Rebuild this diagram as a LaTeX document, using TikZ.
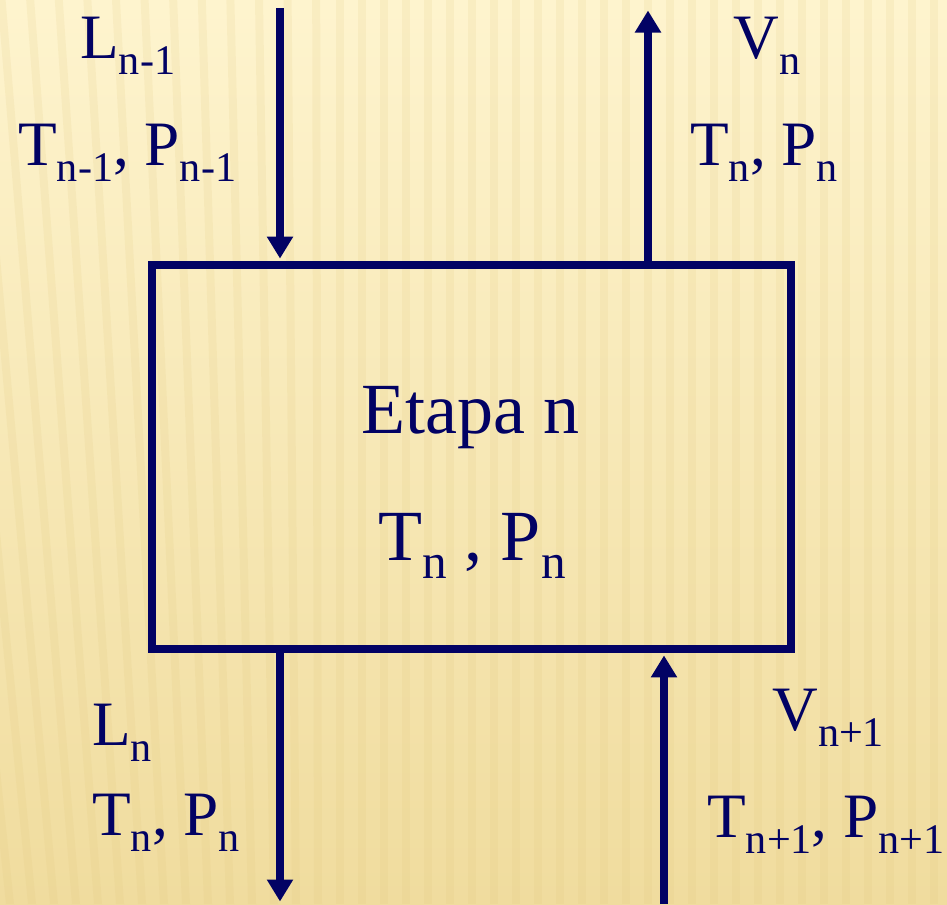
\documentclass[tikz,border=0pt]{standalone}
\usepackage{fontspec}
\setmainfont{Liberation Serif}
\usetikzlibrary{arrows.meta}

\definecolor{navy}{RGB}{2,2,100}
\definecolor{paperTop}{RGB}{254,244,206}
\definecolor{paperBot}{RGB}{240,220,158}
\definecolor{paperStripe}{RGB}{222,196,120}

% lowered index, as on the slide
\newcommand{\lo}[1]{\raisebox{-0.32cm}{\fontsize{24}{24}\selectfont #1}}
\newcommand{\loc}[1]{\raisebox{-0.36cm}{\fontsize{28}{28}\selectfont #1}}

\tikzset{
  stream/.style={line width=4.5pt, draw=navy, -{Triangle[length=0.44cm,width=0.5cm,fill=navy]}, shorten >=0.05cm},
  lbl/.style={anchor=base west, inner sep=0pt, text=navy, font=\fontsize{36}{40}\selectfont},
  stage/.style={draw=navy, line width=4.5pt, minimum width=12.78cm, minimum height=7.68cm, inner sep=0pt},
}

\begin{document}
\begin{tikzpicture}[x=0.02cm,y=-0.02cm]
  \useasboundingbox (0,0) rectangle (947,904);
  % paper background
  \begin{scope}
    \clip (0,0) rectangle (947,904);
    \shade[top color=paperTop,bottom color=paperBot] (0,0) rectangle (947,904);
    \foreach \x in {6,28,...,946} {
      \pgfmathsetmacro{\s}{max(0,(320-\x)*0.3)}
      \fill[paperStripe, opacity=0.14] (\x-\s,0) -- (\x-\s+8,0) -- (\x+8,904) -- (\x,904) -- cycle;
    }
  \end{scope}

  % stage
  \node[stage] (etapa) at (471.5,457) {};
  \node[lbl, anchor=base, font=\fontsize{41}{48}\selectfont] (etapaName) at (470,433) {Etapa n};
  \node[lbl, anchor=base, font=\fontsize{41}{48}\selectfont] (etapaTP) at (472,560) {T\loc{n} , P\loc{n}};

  % streams
  \coordinate (inL) at (280,8);
  \coordinate (outV) at (648,8);
  \coordinate (outL) at (280,904);
  \coordinate (inV) at (664,904);
  \draw[stream] (inL) -- (inL |- etapa.north);
  \draw[stream] (outV |- etapa.north) -- (outV);
  \draw[stream] (outL |- etapa.south) -- (outL);
  \draw[stream] (inV) -- (inV |- etapa.south);

  % labels
  \node[lbl] (Lin) at (80,58) {L\lo{n-1}};
  \node[lbl] (TPin) at (18,165) {T\lo{n-1}, P\lo{n-1}};
  \node[lbl] (Vout) at (733,58) {V\lo{n}};
  \node[lbl] (TPout) at (690,165) {T\lo{n}, P\lo{n}};
  \node[lbl] (Lout) at (92,745) {L\lo{n}};
  \node[lbl] (TPlout) at (92,835) {T\lo{n}, P\lo{n}};
  \node[lbl] (Vin) at (772,730) {V\lo{n+1}};
  \node[lbl] (TPvin) at (707,837) {T\lo{n+1}, P\lo{n+1}};
\end{tikzpicture}
\end{document}
